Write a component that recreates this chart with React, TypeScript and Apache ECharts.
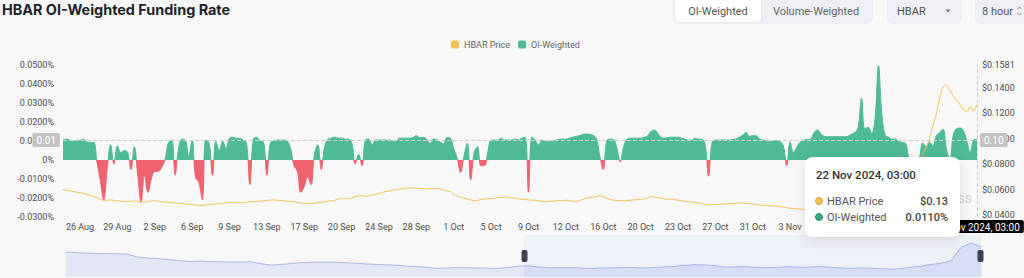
import React, { useEffect, useRef } from 'react';
import * as echarts from 'echarts';

// ---------- data ----------
const START_UTC = Date.UTC(2024, 7, 24, 11, 0); // first 8h funding slot shown
const STEP_HOURS = 8;
const MONTHS = ['Jan', 'Feb', 'Mar', 'Apr', 'May', 'Jun', 'Jul', 'Aug', 'Sep', 'Oct', 'Nov', 'Dec'];

// OI-weighted funding rate, in percent
const fundingRate = [
  0.0105, 0.011, 0.0105, 0.0098, 0.0105, 0.0103, 0.011, 0.0095, 0.0093, 0.0093,
  -0.001, -0.011, -0.021, -0.005, 0.008, -0.002, 0.0075, 0.004, 0.005, 0.004,
  -0.005, 0.007, -0.008, -0.022, -0.008, -0.017, -0.01, -0.006, -0.006, -0.004,
  0, 0.009, 0.0105, -0.008, 0.006, 0.011, 0.0105, 0.002, 0.0105, -0.009,
  -0.012, -0.021, 0.0105, 0.009, -0.008, 0.01, 0.005, 0.01, 0.006, 0.0115,
  0.012, 0.0115, 0.0115, 0.0105, 0.009, -0.013, 0.011, 0.012, 0.01, 0.0095,
  -0.008, 0.009, 0.01, 0.0105, 0.0105, 0.0105, 0.01, 0.006, -0.003, -0.006,
  -0.017, -0.014, -0.009, -0.013, 0.003, 0.008, -0.005, 0.007, 0.011, 0.0115,
  0.012, 0.0115, 0.0115, 0.011, 0.011, 0.009, -0.002, 0.003, -0.003, 0.0105,
  0.011, 0.008, 0.0105, 0.0105, 0.0105, 0.0105, 0.0105, 0.01, 0.0095, 0.0115,
  0.0115, 0.0115, 0.0115, 0.0118, 0.0128, 0.0118, 0.0118, 0.011, 0.0085, 0.011,
  0.0108, 0.0095, 0.0085, 0.0118, 0.0115, 0.006, 0.001, -0.0065, 0.002, 0.0088,
  -0.0105, 0.004, 0.007, -0.003, -0.003, 0.004, 0.0105, 0.0105, 0.0105, 0.0115,
  0.0105, 0.0105, 0.0105, 0.011, 0.0105, 0.0115, 0.012, -0.017, 0.012, 0.0105,
  0.008, 0.0105, 0.0098, 0.0098, 0.0098, 0.0105, 0.0108, 0.011, 0.011, 0.0115,
  0.012, 0.0125, 0.0128, 0.0135, 0.0137, 0.0135, 0.013, 0.011, 0.002, -0.005,
  0.01, 0.011, 0.0108, 0.0065, -0.001, 0.007, 0.011, 0.0115, 0.0115, 0.0115,
  0.0115, 0.012, 0.0125, 0.015, 0.0158, 0.0142, 0.012, 0.0115, 0.0118, 0.012,
  0.012, 0.012, 0.0115, 0.011, 0.0105, 0.0105, 0.0115, 0.011, 0.011, 0.008,
  -0.0085, 0.009, 0.0105, 0.0105, 0.0105, 0.0105, 0.0105, 0.0108, 0.011, 0.012,
  0.013, 0.0145, 0.0125, 0.0128, 0.0128, 0.011, 0.0105, 0.0103, 0.0098, 0.0102,
  0.0102, 0.0098, 0.0075, -0.003, 0.0095, 0.004, 0.007, 0.0095, 0.0105, 0.0108,
  0.011, 0.0142, 0.0158, 0.014, 0.0125, 0.0123, 0.0123, 0.0123, 0.0123, 0.0123,
  0.0123, 0.0125, 0.0135, 0.0145, 0.017, 0.0325, 0.0165, 0.0172, 0.014, 0.022,
  0.0497, 0.024, 0.013, 0.012, 0.011, 0.011, 0.0098, 0.0093, 0.0088, 0.001,
  0, 0, 0.001, 0.009, 0.007, 0.0095, 0.0075, 0.0128, 0.0145, 0.0163,
  0.006, 0, 0.013, 0.0165, 0.0168, 0.0155, 0.01, 0.004, 0.0105, 0.011,
];

// HBAR price, USD
const hbarPrice = [
  0.0598, 0.0595, 0.059, 0.0585, 0.0579, 0.0575, 0.0571, 0.0562, 0.0553, 0.0545,
  0.0537, 0.0525, 0.0513, 0.0516, 0.0519, 0.0514, 0.0511, 0.0508, 0.0506, 0.0505,
  0.0508, 0.0511, 0.0505, 0.05, 0.0503, 0.0505, 0.051, 0.0513, 0.0508, 0.0505,
  0.0503, 0.05, 0.0497, 0.0494, 0.0492, 0.0489, 0.0487, 0.0484, 0.0481, 0.0479,
  0.0476, 0.0474, 0.0478, 0.0481, 0.0484, 0.0487, 0.0489, 0.0492, 0.0495, 0.0498,
  0.05, 0.0497, 0.0495, 0.0495, 0.05, 0.0503, 0.0505, 0.0507, 0.0509, 0.0511,
  0.0514, 0.0517, 0.0519, 0.0516, 0.0513, 0.0511, 0.0508, 0.0506, 0.0505, 0.0499,
  0.0494, 0.0489, 0.049, 0.0491, 0.0492, 0.0496, 0.05, 0.0505, 0.0509, 0.0512,
  0.0516, 0.0524, 0.0532, 0.0529, 0.0526, 0.0536, 0.0545, 0.0549, 0.0553, 0.0545,
  0.055, 0.0557, 0.0563, 0.057, 0.0577, 0.0584, 0.0589, 0.0594, 0.0598, 0.0603,
  0.0607, 0.0611, 0.0611, 0.0612, 0.0611, 0.0609, 0.0607, 0.0605, 0.0607, 0.0609,
  0.0611, 0.0605, 0.0598, 0.0588, 0.0586, 0.0562, 0.055, 0.0541, 0.0532, 0.0525,
  0.0518, 0.0511, 0.0516, 0.0521, 0.0526, 0.0528, 0.053, 0.0532, 0.0535, 0.0539,
  0.0542, 0.0539, 0.0535, 0.0532, 0.0528, 0.0525, 0.0521, 0.0519, 0.0517, 0.0516,
  0.0512, 0.0508, 0.0505, 0.0507, 0.0509, 0.0511, 0.0513, 0.0514, 0.0516, 0.0512,
  0.0509, 0.0505, 0.0514, 0.0523, 0.0532, 0.0537, 0.0541, 0.0545, 0.0553, 0.0543,
  0.0532, 0.0524, 0.0516, 0.0514, 0.0513, 0.0511, 0.0513, 0.0516, 0.0518, 0.0521,
  0.0524, 0.0526, 0.0536, 0.0545, 0.0541, 0.0537, 0.0532, 0.0526, 0.0524, 0.0526,
  0.0521, 0.0516, 0.0512, 0.0509, 0.0505, 0.0502, 0.0498, 0.0495, 0.049, 0.0485,
  0.0479, 0.0481, 0.0483, 0.0484, 0.0486, 0.0488, 0.0489, 0.0491, 0.0493, 0.0495,
  0.0493, 0.0491, 0.0489, 0.0486, 0.0482, 0.0479, 0.0477, 0.0476, 0.0474, 0.0471,
  0.0469, 0.0466, 0.0461, 0.0457, 0.0453, 0.045, 0.0448, 0.0446, 0.0445, 0.0447,
  0.0452, 0.0458, 0.0466, 0.0471, 0.0478, 0.0486, 0.0494, 0.0505, 0.0512, 0.0524,
  0.0531, 0.0545, 0.0552, 0.0563, 0.0571, 0.0586, 0.0597, 0.0609, 0.0618, 0.0626,
  0.0637, 0.0648, 0.0655, 0.0662, 0.067, 0.0681, 0.0693, 0.0702, 0.0711, 0.0722,
  0.0735, 0.0752, 0.079, 0.087, 0.093, 0.1, 0.11, 0.119, 0.132, 0.141,
  0.1425, 0.138, 0.134, 0.13, 0.127, 0.123, 0.1215, 0.1255, 0.122, 0.127,
];

// longer price history (every 2 days) shown as the slider's shadow
const historyPrice = [
  0.108, 0.106, 0.1044, 0.103, 0.102, 0.1015, 0.1007, 0.0896, 0.086, 0.084,
  0.08, 0.0766, 0.073, 0.0747, 0.073, 0.072, 0.071, 0.0715, 0.072, 0.065,
  0.0599, 0.0625, 0.066, 0.069, 0.071, 0.0705, 0.071, 0.069, 0.067, 0.0647,
  0.063, 0.061, 0.0599, 0.057, 0.054, 0.0525, 0.0477, 0.049, 0.0505, 0.05,
  0.049, 0.0485, 0.0477, 0.051, 0.056,
  0.0575, 0.0525, 0.0508, 0.05, 0.0505, 0.0489, 0.0474, 0.0492, 0.0495, 0.0511,
  0.0511, 0.0489, 0.0505, 0.0529, 0.0545, 0.0584, 0.0611, 0.0605, 0.0584, 0.0525,
  0.0528, 0.0539, 0.0519, 0.0507, 0.0512, 0.0537, 0.0524, 0.0516, 0.0545, 0.0526,
  0.0502, 0.0481, 0.0491, 0.0486, 0.0471, 0.045, 0.0458, 0.0512, 0.0552, 0.0618,
  0.0662, 0.075, 0.125, 0.142, 0.127,
];

const RATE_MIN = -0.03;
const RATE_MAX = 0.05;
const RATE_STEP = 0.01;
const PRICE_MIN = 0.0384;
const PRICE_MAX = 0.1581;
const POINTER_RATE = 0.0105; // crosshair height (in funding-rate units)
const LABEL_EVERY = 11; // one date label per 11 slots
const LABEL_OFFSET = 5;
const LAST_UNCOVERED_LABEL = 214; // later labels sit under the tooltip

const GREEN = '#4fba98';
const RED = '#ef6270';
const YELLOW = '#f4c153';

const pad = (n: number) => (n < 10 ? '0' + n : '' + n);
const fmtDate = (ts: number) => {
  const d = new Date(ts);
  return `${d.getUTCDate()} ${MONTHS[d.getUTCMonth()]} ${d.getUTCFullYear()}, ${pad(d.getUTCHours())}:${pad(d.getUTCMinutes())}`;
};
const categories = fundingRate.map((_, i) => fmtDate(START_UTC + i * STEP_HOURS * 3600e3));
const END_UTC = START_UTC + (fundingRate.length - 1) * STEP_HOURS * 3600e3;
const historyDates = historyPrice.map((_, i) => fmtDate(END_UTC - (historyPrice.length - 1 - i) * 48 * 3600e3));

const LAST = categories.length - 1;
const pointerPrice = PRICE_MIN + ((POINTER_RATE - RATE_MIN) / (RATE_MAX - RATE_MIN)) * (PRICE_MAX - PRICE_MIN);

export default function App() {
  const ref = useRef<HTMLDivElement>(null);

  useEffect(() => {
    if (!ref.current) return;
    const chart = echarts.init(ref.current, null, { renderer: 'svg' });
    const font = 'Roboto';
    const axisLabelColor = '#4d4d4d';
    const yPointerLabel = {
      formatter: (p: any) => Number(p.value).toFixed(2),
      backgroundColor: '#c4c4c4',
      color: '#fff',
      fontSize: 10,
      fontFamily: font,
      padding: [2, 4, 2, 4],
      borderRadius: 2,
      margin: 3,
    };
    const crossLine = { color: '#cfcfcf', width: 1, type: 'dashed' };

    const option: any = {
      animation: false,
      backgroundColor: '#f8f8f8',
      textStyle: { fontFamily: font },
      title: {
        text: 'HBAR OI-Weighted Funding Rate',
        left: 2,
        top: 2,
        padding: 0,
        textStyle: { fontFamily: 'Inter', fontSize: 14.4, fontWeight: 700, color: '#1f2329' },
      },
      legend: {
        data: ['HBAR Price', 'OI-Weighted'],
        left: 451,
        top: 40,
        padding: 0,
        itemWidth: 8,
        itemHeight: 8,
        itemGap: 8,
        icon: 'roundRect',
        textStyle: { fontSize: 9, color: '#666', fontFamily: font },
      },
      grid: [
        { left: 63, right: 47, top: 65, bottom: 61 },
        { left: 63, right: 45, top: 234, height: 42, show: false },
      ],
      xAxis: [
        {
          type: 'category',
          data: categories,
          boundaryGap: false,
          axisLine: { show: false },
          axisTick: { show: false },
          splitLine: { show: false },
          axisLabel: {
            interval: (i: number) => i % LABEL_EVERY === LABEL_OFFSET && i <= LAST_UNCOVERED_LABEL,
            formatter: (v: string) => v.split(' ').slice(0, 2).join(' '),
            fontSize: 9,
            color: axisLabelColor,
            margin: 5,
          },
          axisPointer: {
            show: true,
            status: 'show',
            value: LAST,
            type: 'line',
            lineStyle: crossLine,
            label: {
              show: true,
              backgroundColor: '#000',
              color: '#fff',
              fontSize: 10,
              fontFamily: font,
              padding: [2, 4, 1, 4],
              borderRadius: 2,
              margin: 3,
            },
          },
        },
        {
          type: 'category',
          gridIndex: 1,
          data: historyDates,
          boundaryGap: false,
          show: false,
        },
      ],
      yAxis: [
        {
          type: 'value',
          min: RATE_MIN,
          max: RATE_MAX,
          interval: RATE_STEP,
          position: 'left',
          splitLine: { show: false },
          axisLine: { show: false },
          axisTick: { show: false },
          axisLabel: {
            formatter: (v: number) => (Math.abs(v) < 1e-9 ? '0%' : v.toFixed(4) + '%'),
            fontSize: 9,
            color: axisLabelColor,
            margin: 9,
          },
          axisPointer: {
            show: true,
            status: 'show',
            value: POINTER_RATE,
            type: 'line',
            lineStyle: crossLine,
            label: { show: true, ...yPointerLabel },
          },
        },
        {
          type: 'value',
          min: PRICE_MIN,
          max: PRICE_MAX,
          position: 'right',
          splitLine: { show: false },
          axisLine: { show: false },
          axisTick: { show: false },
          axisLabel: {
            formatter: (v: number) => '$' + v.toFixed(4),
            fontSize: 9,
            color: axisLabelColor,
            margin: 5,
          },
          axisPointer: {
            show: true,
            status: 'show',
            value: pointerPrice,
            type: 'line',
            lineStyle: crossLine,
            label: { show: true, ...yPointerLabel },
          },
        },
        { type: 'value', gridIndex: 1, show: false, scale: true },
      ],
      visualMap: {
        type: 'piecewise',
        show: false,
        seriesIndex: 0,
        dimension: 1,
        pieces: [
          { gte: -1, lt: 0, color: RED },
          { gte: 0, lte: 1, color: GREEN },
        ],
      },
      dataZoom: [
        {
          type: 'slider',
          xAxisIndex: 1,
          start: 50,
          end: 100,
          left: 63,
          right: 45,
          top: 235,
          height: 42,
          showDetail: false,
          brushSelect: false,
          moveHandleSize: 0,
          backgroundColor: 'rgba(0,0,0,0)',
          borderColor: 'rgba(0,0,0,0)',
          fillerColor: 'rgba(195,205,242,0.18)',
          handleIcon: 'path://M2,0H4A2,2,0,0,1,6,2V10A2,2,0,0,1,4,12H2A2,2,0,0,1,0,10V2A2,2,0,0,1,2,0Z',
          handleSize: 12,
          handleStyle: { color: '#3d4350', borderColor: '#3d4350', borderWidth: 0 },
          dataBackground: {
            lineStyle: { color: '#aeb9e5', width: 1, opacity: 1 },
            areaStyle: { color: '#e3e7f6', opacity: 1 },
          },
          selectedDataBackground: {
            lineStyle: { color: '#a3b0e3', width: 1, opacity: 1 },
            areaStyle: { color: '#dce1f5', opacity: 1 },
          },
        },
      ],
      series: [
        {
          name: 'OI-Weighted',
          type: 'line',
          data: fundingRate,
          xAxisIndex: 0,
          yAxisIndex: 0,
          smooth: 0.4,
          symbol: 'none',
          silent: true,
          itemStyle: { color: GREEN },
          lineStyle: { width: 1 },
          areaStyle: { opacity: 1 },
          z: 2,
        },
        {
          name: 'HBAR Price',
          type: 'line',
          data: hbarPrice,
          xAxisIndex: 0,
          yAxisIndex: 1,
          smooth: 0.3,
          symbol: 'none',
          silent: true,
          itemStyle: { color: YELLOW },
          lineStyle: { width: 1, color: YELLOW },
          z: 3,
        },
        {
          name: 'history',
          type: 'line',
          data: historyPrice,
          xAxisIndex: 1,
          yAxisIndex: 2,
          symbol: 'none',
          silent: true,
          lineStyle: { opacity: 0 },
          itemStyle: { opacity: 0 },
        },
      ],
      graphic: [
        // header controls
        { type: 'rect', shape: { x: 673, y: -6, width: 200, height: 30, r: 6 }, style: { fill: '#eef0f3' }, z: 1 },
        {
          type: 'rect',
          shape: { x: 675, y: -4, width: 86, height: 26, r: 5 },
          style: { fill: '#ffffff', shadowBlur: 3, shadowColor: 'rgba(0,0,0,0.06)' },
          z: 2,
        },
        { type: 'text', x: 718, y: 11, style: { text: 'OI-Weighted', fontSize: 11, fontFamily: font, fill: '#555', align: 'center', verticalAlign: 'middle' }, z: 3 },
        { type: 'text', x: 816, y: 11, style: { text: 'Volume-Weighted', fontSize: 11, fontFamily: font, fill: '#666', align: 'center', verticalAlign: 'middle' }, z: 3 },
        { type: 'rect', shape: { x: 887, y: -6, width: 75, height: 30, r: 5 }, style: { fill: '#eef0f3' }, z: 1 },
        { type: 'text', x: 897, y: 11, style: { text: 'HBAR', fontSize: 11, fontFamily: font, fill: '#555', verticalAlign: 'middle' }, z: 3 },
        { type: 'polygon', shape: { points: [[945.5, 9.5], [950.5, 9.5], [948, 12.5]] }, style: { fill: '#777' }, z: 3 },
        { type: 'rect', shape: { x: 975, y: -6, width: 60, height: 30, r: 5 }, style: { fill: '#eef0f3' }, z: 1 },
        { type: 'text', x: 982, y: 11, style: { text: '8 hour', fontSize: 11, fontFamily: font, fill: '#555', verticalAlign: 'middle' }, z: 3 },
        { type: 'polyline', shape: { points: [[1017.5, 9], [1019.5, 7], [1021.5, 9]] }, style: { stroke: '#888', lineWidth: 1, fill: null }, z: 3 },
        { type: 'polyline', shape: { points: [[1017.5, 13], [1019.5, 15], [1021.5, 13]] }, style: { stroke: '#888', lineWidth: 1, fill: null }, z: 3 },
        // watermark
        { type: 'text', x: 972, y: 198, style: { text: 'coinglass', fontSize: 14, fontFamily: font, fill: '#d2d2d2', align: 'right', verticalAlign: 'middle' }, z: 0 },
        // hover tooltip
        {
          type: 'group',
          x: 805,
          y: 157,
          z: 100,
          children: [
            {
              type: 'rect',
              shape: { x: 0, y: 0, width: 155, height: 80, r: 8 },
              style: { fill: '#ffffff', shadowBlur: 12, shadowColor: 'rgba(0,0,0,0.12)', shadowOffsetY: 2 },
              z: 100,
            },
            { type: 'text', x: 11, y: 18, style: { text: categories[LAST], fontSize: 11.5, fontWeight: 500, fontFamily: font, fill: '#333', verticalAlign: 'middle' }, z: 101 },
            { type: 'circle', shape: { cx: 14, cy: 44, r: 3.5 }, style: { fill: YELLOW, stroke: '#e49a3c', lineWidth: 1 }, z: 101 },
            { type: 'text', x: 22, y: 44, style: { text: 'HBAR Price', fontSize: 11, fontFamily: font, fill: '#555', verticalAlign: 'middle' }, z: 101 },
            { type: 'text', x: 143, y: 44, style: { text: '$' + hbarPrice[LAST].toFixed(2), fontSize: 11, fontWeight: 500, fontFamily: font, fill: '#444', align: 'right', verticalAlign: 'middle' }, z: 101 },
            { type: 'circle', shape: { cx: 14, cy: 60, r: 3.5 }, style: { fill: '#36ad84', stroke: '#2a8f6c', lineWidth: 1 }, z: 101 },
            { type: 'text', x: 22, y: 60, style: { text: 'OI-Weighted', fontSize: 11, fontFamily: font, fill: '#555', verticalAlign: 'middle' }, z: 101 },
            { type: 'text', x: 143, y: 60, style: { text: fundingRate[LAST].toFixed(4) + '%', fontSize: 11, fontWeight: 500, fontFamily: font, fill: '#444', align: 'right', verticalAlign: 'middle' }, z: 101 },
          ],
        },
      ],
    };

    chart.setOption(option);
    return () => chart.dispose();
  }, []);

  return (
    <div
      ref={ref}
      style={{ position: 'absolute', left: 0, top: 0, width: 1024, height: 278 }}
    />
  );
}
